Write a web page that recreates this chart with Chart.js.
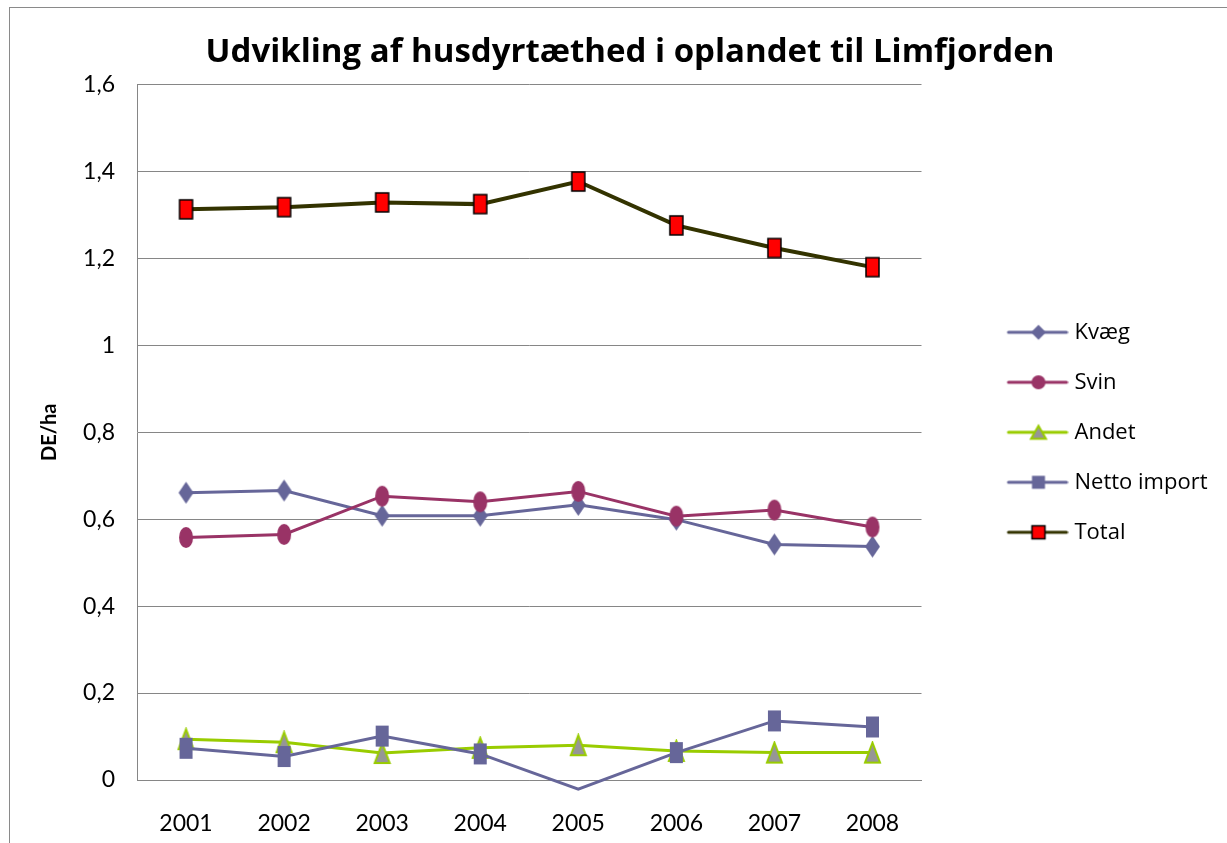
<!DOCTYPE html>
<html>
<head>
<meta charset="utf-8">
<script src="https://cdn.jsdelivr.net/npm/chart.js@4/dist/chart.umd.min.js"></script>
<style>
  html, body { margin: 0; padding: 0; background: #fff; overflow: hidden; }
  #frame { position: absolute; left: 9px; top: 7px; width: 1400px; height: 1000px; border: 1px solid #8a8a8a; }
  #wrap { position: absolute; left: 0; top: 0; width: 1227px; height: 843px; }
</style>
</head>
<body>
<div id="frame"></div>
<div id="wrap"><canvas id="chart" width="1227" height="843"></canvas></div>
<script>
const years = ['2001', '2002', '2003', '2004', '2005', '2006', '2007', '2008'];
const kvaeg = [0.661, 0.666, 0.608, 0.608, 0.633, 0.599, 0.542, 0.537];
const svin = [0.558, 0.565, 0.653, 0.640, 0.664, 0.607, 0.621, 0.582];
const andet = [0.094, 0.087, 0.062, 0.074, 0.080, 0.067, 0.063, 0.063];
const netto = [0.073, 0.054, 0.101, 0.060, -0.021, 0.063, 0.136, 0.122];
const total = [1.313, 1.318, 1.329, 1.325, 1.377, 1.276, 1.224, 1.180];
const yTickLabels = ['0', '0,2', '0,4', '0,6', '0,8', '1', '1,2', '1,4', '1,6'];

const FONT = 'Lato, "Open Sans", sans-serif';
const WIDE = '"Open Sans", Lato, sans-serif';

// marker shapes, drawn into small canvases so Chart.js can use them as pointStyle
function shape(ctx, kind, cx, cy, w, h) {
    ctx.beginPath();
    if (kind === 'diamond') {
        ctx.moveTo(cx, cy - h / 2); ctx.lineTo(cx + w / 2, cy); ctx.lineTo(cx, cy + h / 2); ctx.lineTo(cx - w / 2, cy);
        ctx.closePath();
    } else if (kind === 'ellipse') {
        ctx.ellipse(cx, cy, w / 2, h / 2, 0, 0, Math.PI * 2);
    } else if (kind === 'triangle') {
        ctx.moveTo(cx, cy - h / 2); ctx.lineTo(cx + w / 2, cy + h / 2); ctx.lineTo(cx - w / 2, cy + h / 2);
        ctx.closePath();
    } else {
        ctx.rect(cx - w / 2, cy - h / 2, w, h);
    }
}

function marker(kind, w, h, fill, stroke, lw) {
    const c = document.createElement('canvas');
    c.width = w + 4; c.height = h + 4;
    const ctx = c.getContext('2d');
    shape(ctx, kind, c.width / 2, c.height / 2, w, h);
    ctx.fillStyle = fill; ctx.fill();
    if (stroke) { ctx.lineWidth = lw; ctx.strokeStyle = stroke; ctx.stroke(); }
    return c;
}

function legendIcon(kind, lineColor, lineW, w, h, fill, stroke, lw) {
    const c = document.createElement('canvas');
    c.width = 124; c.height = 24;
    const ctx = c.getContext('2d');
    ctx.strokeStyle = lineColor; ctx.lineWidth = lineW; ctx.lineCap = 'round';
    ctx.beginPath(); ctx.moveTo(64, 12); ctx.lineTo(122, 12); ctx.stroke();
    shape(ctx, kind, 94, 12, w, h);
    ctx.fillStyle = fill; ctx.fill();
    if (stroke) { ctx.lineWidth = lw; ctx.strokeStyle = stroke; ctx.stroke(); }
    return c;
}

const blue = '#666699', plum = '#993366', lime = '#99cc00', olive = '#333300';

const legendIcons = [
    legendIcon('diamond', blue, 3, 15, 15, blue),
    legendIcon('ellipse', plum, 3, 14, 14, plum),
    legendIcon('triangle', lime, 3, 15, 13, '#969696', lime, 2),
    legendIcon('rect', blue, 3, 13, 13, blue),
    legendIcon('rect', olive, 3, 13, 13, '#ff0000', '#000', 1.5)
];

new Chart(document.getElementById('chart'), {
    type: 'line',
    data: {
        labels: years,
        datasets: [
            { label: 'Kvæg', data: kvaeg, borderColor: blue, borderWidth: 3, order: 5,
              pointStyle: marker('diamond', 15, 22, blue), pointRadius: 5 },
            { label: 'Svin', data: svin, borderColor: plum, borderWidth: 3, order: 4,
              pointStyle: marker('ellipse', 14, 21, plum), pointRadius: 5 },
            { label: 'Andet', data: andet, borderColor: lime, borderWidth: 3, order: 3,
              pointStyle: marker('triangle', 15, 20, '#969696', lime, 2), pointRadius: 5 },
            { label: 'Netto import', data: netto, borderColor: blue, borderWidth: 3, order: 2, clip: false,
              pointStyle: marker('rect', 13, 21, blue), pointRadius: 5 },
            { label: 'Total', data: total, borderColor: olive, borderWidth: 4, order: 1,
              pointStyle: marker('rect', 13, 19, '#ff0000', '#000', 1.5), pointRadius: 5 }
        ]
    },
    options: {
        responsive: false,
        animation: false,
        layout: { padding: { left: 47, right: 14, top: 0, bottom: 0 } },
        plugins: {
            tooltip: { enabled: false },
            title: {
                display: true,
                text: 'Udvikling af husdyrtæthed i oplandet til Limfjorden',
                color: '#000',
                font: { family: WIDE, size: 33, weight: 'bold' },
                padding: { top: 33, bottom: 12 }
            },
            legend: {
                position: 'right',
                fullSize: false,
                labels: {
                    usePointStyle: true,
                    pointStyleWidth: 114,
                    padding: 28,
                    color: '#000',
                    font: { family: WIDE, size: 22 },
                    sort: (a, b) => a.datasetIndex - b.datasetIndex,
                    generateLabels: chart => {
                        const items = Chart.defaults.plugins.legend.labels.generateLabels(chart);
                        items.forEach(it => { it.pointStyle = legendIcons[it.datasetIndex]; });
                        return items;
                    }
                }
            }
        },
        scales: {
            x: {
                offset: true,
                afterFit: s => { s.height = 63; },
                grid: { display: false, drawTicks: false, offset: true },
                border: { display: true, color: '#868686', width: 1 },
                ticks: { color: '#000', font: { family: FONT, size: 23 }, padding: 30 }
            },
            y: {
                min: 0,
                max: 1.6,
                afterFit: s => { s.width = 90; },
                grid: { color: '#868686', lineWidth: 1, drawTicks: false },
                border: { display: true, color: '#868686', width: 1 },
                ticks: {
                    stepSize: 0.2,
                    padding: 22,
                    color: '#000',
                    font: { family: FONT, size: 23 },
                    callback: (v, i) => yTickLabels[i]
                },
                title: {
                    display: true,
                    text: 'DE/ha',
                    color: '#000',
                    font: { family: FONT, size: 20, weight: 'bold' },
                    padding: { top: -9, bottom: 0 }
                }
            }
        }
    }
});
</script>
</body>
</html>
